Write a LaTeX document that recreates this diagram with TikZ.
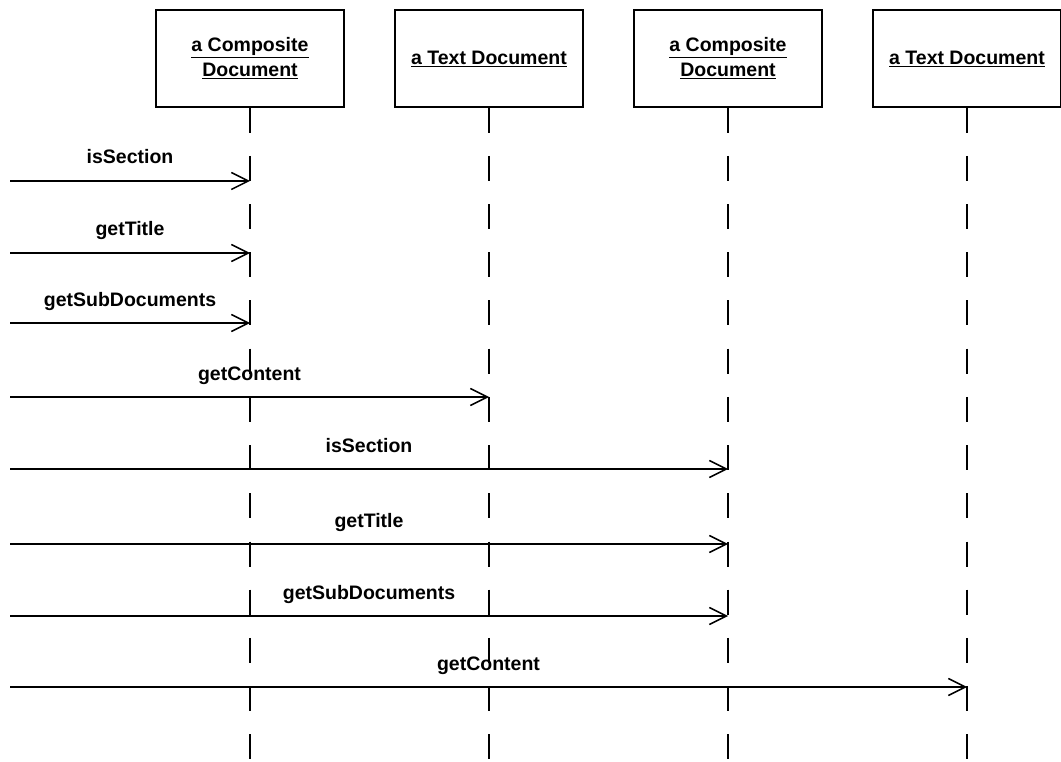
\documentclass[tikz,border=0pt]{standalone}
\usepackage{fontspec}
\setmainfont{Liberation Sans}
\usetikzlibrary{arrows.meta}
\begin{document}
\begin{tikzpicture}[x=1pt,y=-1pt,
  obj/.style={draw, line width=1.4pt, minimum width=188pt, minimum height=97pt,
    align=center, inner sep=0pt, font=\bfseries\fontsize{19.5}{25}\selectfont},
  life/.style={line width=2pt, dash pattern=on 25pt off 23.2pt},
  msg/.style={line width=1.5pt,
    -{Straight Barb[length=17pt,width=17pt,line width=1.5pt]}},
  lbl/.style={font=\bfseries\fontsize{19.5}{24}\selectfont, anchor=base, midway, yshift=17pt}
]
\useasboundingbox (0,0) rectangle (1061,762);

% objects
\node[obj] (o1) at (250,58.5) {\underline{a Composite}\\\underline{Document}};
\node[obj] (o2) at (489,58.5) {\underline{a Text Document}};
\node[obj] (o3) at (728,58.5) {\underline{a Composite}\\\underline{Document}};
\node[obj] (o4) at (967,58.5) {\underline{a Text Document}};

% lifelines
\foreach \i in {1,...,4} {
  \coordinate (e\i) at (o\i.south |- 0,762);
  \draw[life] (o\i.south) -- (e\i);
}

% message start points
\coordinate (s1) at (10,181);
\coordinate (s2) at (10,253);
\coordinate (s3) at (10,323);
\coordinate (s4) at (10,397);
\coordinate (s5) at (10,469);
\coordinate (s6) at (10,544);
\coordinate (s7) at (10,616);
\coordinate (s8) at (10,687);

% messages
\draw[msg] (s1) -- (o1.south |- s1) node[lbl] (m1) {isSection};
\draw[msg] (s2) -- (o1.south |- s2) node[lbl] (m2) {getTitle};
\draw[msg] (s3) -- (o1.south |- s3) node[lbl] (m3) {getSubDocuments};
\draw[msg] (s4) -- (o2.south |- s4) node[lbl] (m4) {getContent};
\draw[msg] (s5) -- (o3.south |- s5) node[lbl] (m5) {isSection};
\draw[msg] (s6) -- (o3.south |- s6) node[lbl] (m6) {getTitle};
\draw[msg] (s7) -- (o3.south |- s7) node[lbl] (m7) {getSubDocuments};
\draw[msg] (s8) -- (o4.south |- s8) node[lbl] (m8) {getContent};
\end{tikzpicture}
\end{document}
